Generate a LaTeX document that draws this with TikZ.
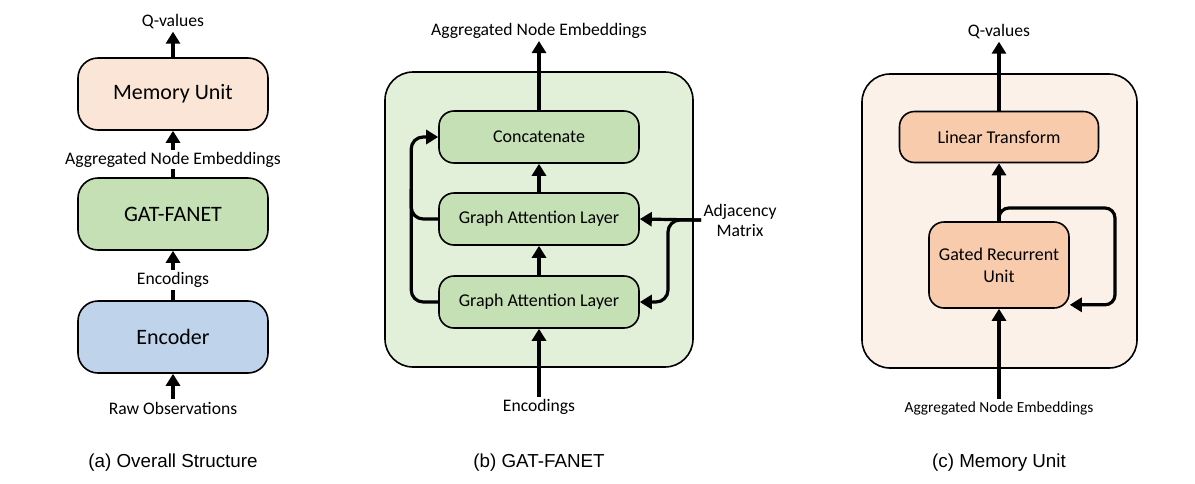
\documentclass[tikz,border=0pt]{standalone}
\usepackage{fontspec}
\setmainfont{Carlito}
\newfontfamily\capfont{Liberation Sans}
\usetikzlibrary{positioning,arrows.meta,calc}
\definecolor{memfill}{HTML}{FBE5D6}
\definecolor{gatfill}{HTML}{C5E0B4}
\definecolor{encfill}{HTML}{BFD3EB}
\definecolor{ofill}{HTML}{F8CBAD}
\definecolor{gouter}{HTML}{E2F0D9}
\definecolor{oouter}{HTML}{FCF1E9}

\begin{document}
\begin{tikzpicture}[x=0.5pt,y=-0.5pt,
  box/.style={draw, rounded corners=10pt, line width=0.8pt, minimum width=95pt, minimum height=36pt, font=\fontsize{11}{13}\selectfont},
  sbox/.style={draw, rounded corners=7.5pt, line width=0.8pt, minimum width=100pt, minimum height=26pt, font=\fontsize{9}{11}\selectfont},
  outer/.style={draw, rounded corners=14pt, line width=0.8pt},
  lbl/.style={font=\fontsize{8.8}{10}\selectfont, inner sep=1pt},
  arr/.style={line width=1.6pt, -{Triangle[width=7pt,length=6pt]}},
  line/.style={line width=1.6pt},
  captext/.style={font=\capfont\fontsize{9.4}{11}\selectfont}]

\useasboundingbox (0,0) rectangle (1195,483);

% (a) overall structure
\node[box, fill=memfill] (mem) at (173,94) {Memory Unit};
\node[box, fill=gatfill] (gat) at (173,214) {GAT-FANET};
\node[box, fill=encfill] (enc) at (173,337) {Encoder};
\node[lbl] (qa) at (173,22) {Q-values};
\node[lbl] (raw) at (173,408) {Raw Observations};
\draw[arr] (mem) -- (qa);
\draw[arr] (gat) -- node[lbl, fill=white, pos=0.38] {Aggregated Node Embeddings} (mem);
\draw[arr] (enc) -- node[lbl, fill=white, pos=0.41] {Encodings} (gat);
\draw[arr] (raw) -- (enc);
\node[captext] (capa) at (173,463) {(a) Overall Structure};

% (b) GAT-FANET
\draw[outer, fill=gouter] (385,72) rectangle (693,367);
\node[sbox, fill=gatfill] (cat) at (539,137) {Concatenate};
\node[sbox, fill=gatfill] (gal1) at (539,219) {Graph Attention Layer};
\node[sbox, fill=gatfill] (gal2) at (539,302) {Graph Attention Layer};
\node[lbl] (aggb) at (539,31) {Aggregated Node Embeddings};
\node[lbl] (encb) at (539,407) {Encodings};
\node[lbl, align=center] (adj) at (740,220) {Adjacency\\Matrix};
\draw[arr] (cat) -- (aggb);
\draw[arr] (gal1) -- (cat);
\draw[arr] (gal2) -- (gal1);
\draw[arr] (encb) -- (gal2);
\draw[arr, rounded corners=6pt] (gal2.west) -- ++(-27,0) |- (cat.west);
\draw[line, rounded corners=6pt] (gal1.west) -- ++(-27,0) -- ++(0,-30);
\coordinate (br) at (668,260);
\draw[arr] (adj.west) -- (gal1.east);
\draw[arr, rounded corners=6pt] (adj.west) -| (br) |- (gal2.east);
\node[captext] (capb) at (539,463) {(b) GAT-FANET};

% (c) memory unit
\draw[outer, fill=oouter] (862,74) rectangle (1137,368);
\node[sbox, fill=ofill, minimum width=99.5pt, minimum height=25.5pt] (lin) at (999,137) {Linear Transform};
\node[sbox, fill=ofill, minimum width=70pt, minimum height=43pt, align=center] (gru) at (999,265) {Gated Recurrent\\Unit};
\node[lbl] (qc) at (999,32) {Q-values};
\node[lbl, font=\fontsize{7.7}{9}\selectfont] (aggc) at (999,408) {Aggregated Node Embeddings};
\draw[arr] (lin) -- (qc);
\draw[arr] (gru) -- (lin);
\draw[arr] (aggc) -- (gru);
\draw[arr, rounded corners=5pt] (gru.north) |- (1115,208) |- ([yshift=2pt]gru.south east);
\node[captext] (capc) at (999,463) {(c) Memory Unit};

\end{tikzpicture}
\end{document}
